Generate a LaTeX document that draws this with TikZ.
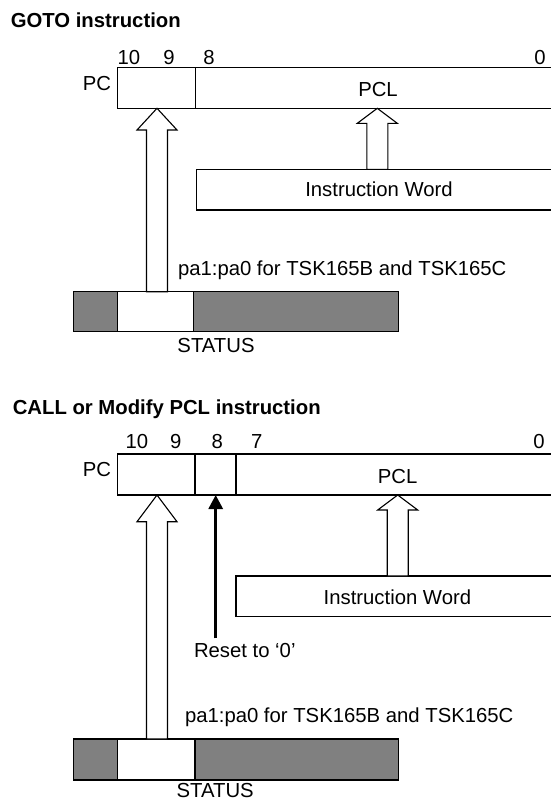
\documentclass[tikz,border=0pt]{standalone}
\usepackage{fontspec}
\setmainfont{Liberation Sans}
\usetikzlibrary{calc,arrows.meta}
\definecolor{stgray}{RGB}{128,128,128}
\tikzset{
  regbox/.style={draw=black, line width=1.1pt, fill=white, inner sep=0pt, outer sep=0pt, anchor=north west},
  graybox/.style={regbox, fill=stgray},
  txt/.style={inner sep=0pt, outer sep=0pt, font=\fontsize{20.3}{24}\selectfont},
  ttl/.style={inner sep=0pt, outer sep=0pt, font=\fontsize{20.3}{24}\selectfont\bfseries},
  blockarr/.style={draw=black, fill=white, line width=1.1pt, line join=miter},
  resetarr/.style={draw=black, line width=3pt, -{Triangle[length=14pt,width=14pt]}},
}
\newcommand{\blkarrow}[4]{%
  \draw[blockarr] (#1 |- #2.south) -- ++(20pt,-#4) -- ++(-9.5pt,0pt)
    -- ($(#1 |- #3.north)+(10.5pt,0pt)$) -- ++(-21pt,0pt)
    -- ($(#1 |- #2.south)+(-10.5pt,-#4)$) -- ++(-9.5pt,0pt) -- cycle;}
\begin{document}
\begin{tikzpicture}[x=1pt,y=-1pt]
\useasboundingbox (0,0) rectangle (551,801);
% ---------- GOTO ----------
\node[ttl, anchor=base west] (ttlA) at (10.8,27.7) {GOTO instruction};
\node[txt, anchor=base] (bA10) at (129,64) {10};
\node[txt, anchor=base] (bA9) at (169,64) {9};
\node[txt, anchor=base] (bA8) at (209,64) {8};
\node[txt, anchor=base] (bA0) at (540,64) {0};
\node[txt, anchor=base] (pcA) at (97,90.3) {PC};
\node[regbox, minimum width=78pt, minimum height=40.6pt] (pchiA) at (117.3,67.7) {};
\node[regbox, minimum width=357.7pt, minimum height=40.6pt] (pclA) at (195.3,67.7) {};
\node[txt, anchor=base] (pcltA) at (378,96.7) {PCL};
\node[regbox, minimum width=356.2pt, minimum height=40.7pt] (iwA) at (196.8,169.3) {};
\node[txt, anchor=base] (iwtA) at (379,196.5) {Instruction Word};
\node[graybox, minimum width=44pt, minimum height=40pt] (stlA) at (73.3,291.7) {};
\node[regbox, minimum width=76.4pt, minimum height=40pt] (stmA) at (117.3,291.7) {};
\node[graybox, minimum width=205pt, minimum height=40pt] (strA) at (193.7,291.7) {};
\node[txt, anchor=base west] (paA) at (178,275.5) {pa1:pa0 for TSK165B and TSK165C};
\node[txt, anchor=base] (stA) at (216,352.7) {STATUS};
\coordinate (axA) at (157,0);
\coordinate (pxA) at (377.3,0);
\blkarrow{axA}{pchiA}{stmA}{21.7pt}
\blkarrow{pxA}{pclA}{iwA}{15pt}
% ---------- CALL ----------
\node[ttl, anchor=base west] (ttlB) at (12.8,414) {CALL or Modify PCL instruction};
\node[txt, anchor=base] (bB10) at (137,448.3) {10};
\node[txt, anchor=base] (bB9) at (175.8,448.3) {9};
\node[txt, anchor=base] (bB8) at (217.2,448.3) {8};
\node[txt, anchor=base] (bB7) at (256.7,448.3) {7};
\node[txt, anchor=base] (bB0) at (539,448.3) {0};
\node[txt, anchor=base] (pcB) at (97,476.8) {PC};
\node[regbox, minimum width=77.7pt, minimum height=41pt] (pchiB) at (117.3,454) {};
\node[regbox, minimum width=41pt, minimum height=41pt] (p8B) at (195,454) {};
\node[regbox, minimum width=317pt, minimum height=41pt] (pclB) at (236,454) {};
\node[txt, anchor=base] (pcltB) at (397.6,483) {PCL};
\node[regbox, minimum width=317pt, minimum height=40.7pt] (iwB) at (236,576) {};
\node[txt, anchor=base] (iwtB) at (397.4,604.5) {Instruction Word};
\node[txt, anchor=base west] (rsB) at (194,657.5) {Reset to ‘0’};
\node[graybox, minimum width=44.3pt, minimum height=41pt] (stlB) at (73.1,739) {};
\node[regbox, minimum width=77.6pt, minimum height=41pt] (stmB) at (117.4,739) {};
\node[graybox, minimum width=203.1pt, minimum height=41pt] (strB) at (195,739) {};
\node[txt, anchor=base west] (paB) at (185,722.3) {pa1:pa0 for TSK165B and TSK165C};
\node[txt, anchor=base] (stB) at (215.2,797.8) {STATUS};
\coordinate (axB) at (157,0);
\coordinate (pxB) at (397.7,0);
\blkarrow{axB}{pchiB}{stmB}{26.7pt}
\blkarrow{pxB}{pclB}{iwB}{15pt}
\coordinate (resetTail) at (215.7,638.3);
\draw[resetarr] (resetTail) -- (resetTail |- p8B.south);
\end{tikzpicture}
\end{document}
